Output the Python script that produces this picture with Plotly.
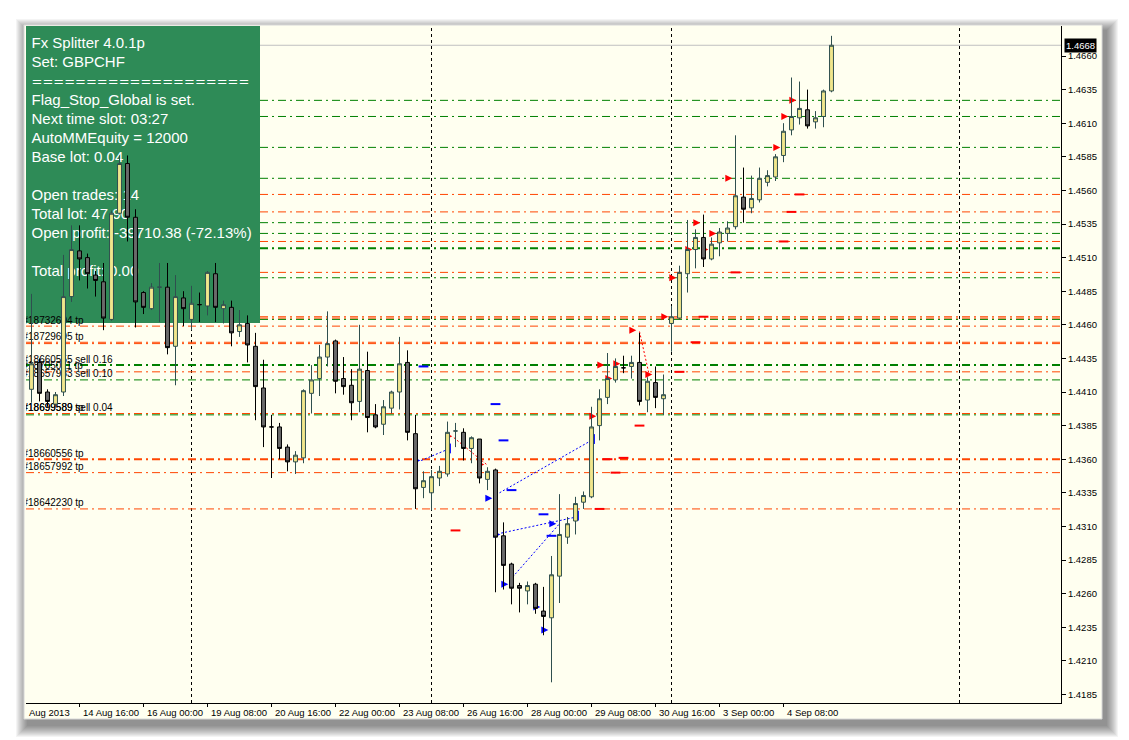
import plotly.graph_objects as go

# ---------------- data (H4 GBPCHF) ----------------
bar_index = list(range(101))
opens = [1.4412, 1.4432, 1.4410, 1.4401, 1.4410, 1.4481, 1.4515, 1.4510, 1.4497, 1.4492,
         1.4464, 1.4543, 1.4580, 1.4540, 1.4484, 1.4472, 1.4488, 1.4488, 1.4444, 1.4480,
         1.4464, 1.4475, 1.4474, 1.4498, 1.4472, 1.4473, 1.4455, 1.4461, 1.4444, 1.4413,
         1.4384, 1.4384, 1.4369, 1.4358, 1.4361, 1.4409, 1.4420, 1.4436, 1.4448, 1.4420,
         1.4415, 1.4403, 1.4426, 1.4393, 1.4386, 1.4398, 1.4410, 1.4432, 1.4379, 1.4339,
         1.4335, 1.4346, 1.4349, 1.4381, 1.4380, 1.4368, 1.4375, 1.4345, 1.4352, 1.4303,
         1.4282, 1.4266, 1.4262, 1.4267, 1.4247, 1.4242, 1.4273, 1.4302, 1.4314, 1.4328,
         1.4332, 1.4385, 1.4406, 1.4419, 1.4428, 1.4429, 1.4432, 1.4404, 1.4417, 1.4405,
         1.4461, 1.4465, 1.4498, 1.4516, 1.4525, 1.4509, 1.4521, 1.4528, 1.4533, 1.4555,
         1.4547, 1.4553, 1.4566, 1.4570, 1.4586, 1.4605, 1.4614, 1.4620, 1.4611, 1.4615,
         1.4634]
highs = [1.4483, 1.4435, 1.4412, 1.4410, 1.4512, 1.4534, 1.4534, 1.4513, 1.4500, 1.4506,
         1.4545, 1.4586, 1.4586, 1.4546, 1.4485, 1.4491, 1.4506, 1.4506, 1.4497, 1.4485,
         1.4489, 1.4484, 1.4500, 1.4506, 1.4478, 1.4478, 1.4471, 1.4467, 1.4454, 1.4434,
         1.4393, 1.4387, 1.4371, 1.4366, 1.4412, 1.4430, 1.4445, 1.4470, 1.4449, 1.4436,
         1.4427, 1.4460, 1.4440, 1.4401, 1.4404, 1.4411, 1.4451, 1.4441, 1.4393, 1.4351,
         1.4352, 1.4355, 1.4388, 1.4387, 1.4383, 1.4377, 1.4375, 1.4354, 1.4353, 1.4313,
         1.4283, 1.4268, 1.4269, 1.4268, 1.4265, 1.4288, 1.4334, 1.4317, 1.4332, 1.4336,
         1.4399, 1.4412, 1.4439, 1.4435, 1.4437, 1.4437, 1.4454, 1.4421, 1.4429, 1.4423,
         1.4474, 1.4504, 1.4538, 1.4531, 1.4542, 1.4525, 1.4532, 1.4537, 1.4601, 1.4577,
         1.4571, 1.4577, 1.4575, 1.4587, 1.4610, 1.4644, 1.4641, 1.4635, 1.4619, 1.4635,
         1.4675]
lows = [1.4402, 1.4403, 1.4399, 1.4399, 1.4407, 1.4477, 1.4493, 1.4487, 1.4481, 1.4456,
        1.4463, 1.4542, 1.4522, 1.4458, 1.4468, 1.4471, 1.4462, 1.4438, 1.4415, 1.4459,
        1.4456, 1.4462, 1.4467, 1.4462, 1.4461, 1.4444, 1.4451, 1.4432, 1.4389, 1.4369,
        1.4346, 1.4360, 1.4351, 1.4349, 1.4357, 1.4394, 1.4407, 1.4429, 1.4409, 1.4408,
        1.4389, 1.4395, 1.4380, 1.4383, 1.4378, 1.4394, 1.4397, 1.4374, 1.4323, 1.4331,
        1.4322, 1.4340, 1.4347, 1.4369, 1.4359, 1.4357, 1.4342, 1.4337, 1.4261, 1.4263,
        1.4252, 1.4246, 1.4252, 1.4245, 1.4229, 1.4194, 1.4253, 1.4297, 1.4304, 1.4323,
        1.4331, 1.4374, 1.4401, 1.4417, 1.4424, 1.4420, 1.4400, 1.4395, 1.4398, 1.4393,
        1.4440, 1.4464, 1.4484, 1.4502, 1.4503, 1.4508, 1.4511, 1.4522, 1.4531, 1.4536,
        1.4543, 1.4551, 1.4563, 1.4567, 1.4581, 1.4601, 1.4609, 1.4606, 1.4606, 1.4607,
        1.4633]
closes = [1.4431, 1.4409, 1.4403, 1.4408, 1.4481, 1.4516, 1.4509, 1.4498, 1.4493, 1.4465,
          1.4543, 1.4580, 1.4540, 1.4477, 1.4473, 1.4488, 1.4488, 1.4443, 1.4481, 1.4472,
          1.4476, 1.4475, 1.4499, 1.4473, 1.4475, 1.4454, 1.4460, 1.4445, 1.4414, 1.4384,
          1.4384, 1.4368, 1.4358, 1.4363, 1.4411, 1.4419, 1.4436, 1.4446, 1.4418, 1.4414,
          1.4402, 1.4427, 1.4391, 1.4384, 1.4399, 1.4410, 1.4431, 1.4380, 1.4338, 1.4344,
          1.4347, 1.4351, 1.4380, 1.4381, 1.4368, 1.4376, 1.4346, 1.4351, 1.4302, 1.4281,
          1.4264, 1.4264, 1.4266, 1.4249, 1.4243, 1.4274, 1.4304, 1.4312, 1.4327, 1.4333,
          1.4384, 1.4405, 1.4420, 1.4429, 1.4428, 1.4432, 1.4403, 1.4418, 1.4406, 1.4408,
          1.4466, 1.4499, 1.4516, 1.4525, 1.4509, 1.4520, 1.4529, 1.4532, 1.4556, 1.4546,
          1.4554, 1.4569, 1.4571, 1.4585, 1.4604, 1.4615, 1.4621, 1.4608, 1.4614, 1.4634,
          1.4668]
bid_price = 1.4668

x_tick_index = [6, 14, 22, 30, 38, 46, 54, 62, 70, 78, 86, 94]
x_tick_labels = ["14 Aug 16:00", "16 Aug 00:00", "19 Aug 08:00", "20 Aug 16:00",
                 "22 Aug 00:00", "23 Aug 08:00", "26 Aug 16:00", "28 Aug 00:00",
                 "29 Aug 08:00", "30 Aug 16:00", "3 Sep 00:00", "4 Sep 08:00"]
first_date_label = "Aug 2013"
y_tick_values = [1.4185, 1.4210, 1.4235, 1.4260, 1.4285, 1.4310, 1.4335, 1.4360, 1.4385,
                 1.4410, 1.4435, 1.4460, 1.4485, 1.4510, 1.4535, 1.4560, 1.4585, 1.4610,
                 1.4635, 1.4660]
y_tick_labels = ["%.4f" % v for v in y_tick_values]

separator_index = [20, 50, 80, 116]

# order / target levels
level_prices = [1.4627, 1.4615, 1.4592, 1.4569, 1.4557, 1.4544, 1.4536, 1.4528, 1.4522,
                1.4517, 1.4499, 1.4495, 1.4466, 1.4465, 1.4464, 1.4459, 1.4447, 1.4446,
                1.4430, 1.4425, 1.4419, 1.4394, 1.4393, 1.4360, 1.4350, 1.4323]
level_kind = ["g", "g", "g", "g", "o", "o", "g", "g", "o",
              "G", "o", "g", "o", "o", "g", "o", "o", "o",
              "G", "o", "g", "o", "g", "O", "o", "o"]

order_labels = ["#18732604 tp", "#18729695 tp", "#18660555 sell 0.16", "#18705011 tp",
                "#18657933 sell 0.10", "#18699589 sell 0.04", "#18699589 tp",
                "#18660556 tp", "#18657992 tp", "#18642230 tp"]
order_label_prices = [1.4459, 1.4447, 1.4430, 1.4425, 1.4419, 1.4394, 1.4394,
                      1.4360, 1.4350, 1.4323]

# trade history markers
buy_arrow_bar = [49, 58, 59, 60, 64, 65, 66]
buy_arrow_price = [1.4359, 1.4331, 1.4304, 1.4267, 1.4250, 1.4233, 1.4312]
sell_arrow_bar = [53, 57, 71, 72, 73, 74, 76, 78, 80, 81, 83, 84, 85, 86, 88, 94, 95, 96]
sell_arrow_price = [1.4377, 1.4356, 1.4392, 1.4430, 1.4420, 1.4431, 1.4456, 1.4423,
                    1.4466, 1.4495, 1.4516, 1.4536, 1.4516, 1.4528, 1.4569, 1.4592,
                    1.4615, 1.4627]
buy_mark_bar = [49, 58, 59, 60, 64, 65]
buy_mark_price = [1.4429, 1.4401, 1.4374, 1.4337, 1.4319, 1.4303]
sell_mark_bar = [53, 76, 81, 83, 72, 74, 73, 71, 96, 95, 94, 88, 84]
sell_mark_price = [1.4307, 1.4385, 1.4425, 1.4447, 1.4360, 1.4361, 1.4350, 1.4323,
                   1.4557, 1.4544, 1.4522, 1.4499, 1.4466]
buy_close_bar = [52, 70, 68]
buy_close_price = [1.4368, 1.4375, 1.4318]
buy_link_from = [(48.7, 1.4359), (58.5, 1.4335), (58.7, 1.4305), (59.8, 1.4270)]
buy_link_to = [(52.3, 1.4368), (69.7, 1.4373), (68.1, 1.4317), (66.0, 1.4312)]
sell_link_from = [(52.8, 1.4376), (76.0, 1.4455)]
sell_link_to = [(56.9, 1.4356), (77.2, 1.4423)]

info_lines = ["Fx Splitter 4.0.1p", "Set: GBPCHF", "====================",
              "Flag_Stop_Global is set.", "Next time slot: 03:27", "AutoMMEquity = 12000",
              "Base lot: 0.04", "", "Open trades: 14", "Total lot: 47.90",
              "Open profit: -39710.38 (-72.13%)", "", "Total profit: 0.00"]

# ---------------- geometry / style ----------------
W, H = 1129, 740
L, R, T, B = 26, 1061, 26, 703
PW, PH = R - L, B - T
BAR0_PX, BAR_PX = 31.5, 8.0
XMIN = (L - BAR0_PX) / BAR_PX
XMAX = (R - BAR0_PX) / BAR_PX
PX_PER_PRICE = 33.6 / 0.0025
YMAX = 1.4660 + (56 - T) / PX_PER_PRICE
YMIN = 1.4660 - (B - 56) / PX_PER_PRICE

def px(xp):
    return (xp - L) / PW

def py(yp):
    return (B - yp) / PH

def px2x(xp):
    return XMIN + (xp - L) / PW * (XMAX - XMIN)

def py2y(yp):
    return YMAX - (yp - T) / PH * (YMAX - YMIN)

BG = "#FFFFF0"
GREEN = "#008000"
ORANGE = "#FF4500"
DASHDOT = "8px,4px,2px,4px"
FONT = "Liberation Sans"
SMALL = 10

shapes = []
# window drop shadow
for i in range(12):
    e = 12 - i
    shapes.append(dict(type="rect", xref="paper", yref="paper", layer="below",
                       x0=px(24 + 4 - e), x1=px(1102 + 4 + e),
                       y0=py(719 + 6 + e), y1=py(25 + 6 - e),
                       fillcolor="rgba(0,0,0,0.045)", line=dict(width=0)))
# window
shapes.append(dict(type="rect", xref="paper", yref="paper", layer="below",
                   x0=px(24), x1=px(1102), y0=py(719), y1=py(25),
                   fillcolor=BG, line=dict(color="#D8D8D8", width=1)))
# separators
for s in separator_index:
    shapes.append(dict(type="line", xref="x", yref="paper", layer="below",
                       x0=s, x1=s, y0=0, y1=1,
                       line=dict(color="black", width=1, dash="3px,3px")))
# bid line
shapes.append(dict(type="line", xref="paper", yref="y", layer="below",
                   x0=0, x1=1, y0=bid_price, y1=bid_price,
                   line=dict(color="#C0C0C0", width=1)))
# levels
for p, k in zip(level_prices, level_kind):
    col = GREEN if k.lower() == "g" else ORANGE
    wd = 2 if k.isupper() else 1
    shapes.append(dict(type="line", xref="paper", yref="y", layer="below",
                       x0=0, x1=1, y0=p, y1=p,
                       line=dict(color=col, width=wd, dash=DASHDOT)))
# info panel
shapes.append(dict(type="rect", xref="paper", yref="paper", layer="below",
                   x0=px(26), x1=px(260), y0=py(323), y1=py(26),
                   fillcolor="#2E8B57", line=dict(width=0)))

fig = go.Figure()

# info text (drawn under the candles)
info_fs = [13 if ln.startswith("=") else 15 for ln in info_lines]
info_fam = ["DejaVu Sans" if ln.startswith("=") else FONT for ln in info_lines]
fig.add_trace(go.Scatter(
    x=[px2x(31.5)] * len(info_lines),
    y=[py2y(48.3 + 19 * i - 0.25 * info_fs[i]) for i in range(len(info_lines))],
    mode="text", text=info_lines, textposition="middle right",
    textfont=dict(color="white", size=info_fs, family=info_fam),
    hoverinfo="skip", showlegend=False, xaxis="x", yaxis="y"))

# order labels
fig.add_trace(go.Scatter(
    x=[px2x(22.5)] * len(order_labels), y=order_label_prices,
    mode="text", text=order_labels, textposition="top right",
    textfont=dict(color="black", size=SMALL, family=FONT),
    hoverinfo="skip", showlegend=False))

# trade links
def link_xy(a, b):
    xs, ys = [], []
    for (x0, y0), (x1, y1) in zip(a, b):
        xs += [x0, x1, None]
        ys += [y0, y1, None]
    return xs, ys

bx, by = link_xy(buy_link_from, buy_link_to)
fig.add_trace(go.Scatter(x=bx, y=by, mode="lines",
                         line=dict(color="#0000FF", width=1, dash="2px,2px"),
                         hoverinfo="skip", showlegend=False))
sx, sy = link_xy(sell_link_from, sell_link_to)
fig.add_trace(go.Scatter(x=sx, y=sy, mode="lines",
                         line=dict(color="#FF0000", width=1, dash="2px,2px"),
                         hoverinfo="skip", showlegend=False))

fig.add_trace(go.Scatter(x=buy_mark_bar, y=buy_mark_price, mode="markers",
                         marker=dict(symbol="line-ew", size=7, line=dict(color="#0000FF", width=2)),
                         hoverinfo="skip", showlegend=False))
fig.add_trace(go.Scatter(x=sell_mark_bar, y=sell_mark_price, mode="markers",
                         marker=dict(symbol="line-ew", size=7, line=dict(color="#FF0000", width=2)),
                         hoverinfo="skip", showlegend=False))
fig.add_trace(go.Scatter(x=[b + 0.3 for b in buy_close_bar], y=buy_close_price, mode="markers",
                         marker=dict(symbol="line-ns", size=7, line=dict(color="#0000FF", width=2)),
                         hoverinfo="skip", showlegend=False))
fig.add_trace(go.Scatter(x=[b - 0.4 for b in buy_arrow_bar], y=buy_arrow_price, mode="markers",
                         marker=dict(symbol="arrow-right", size=7, color="#0000FF"),
                         hoverinfo="skip", showlegend=False))
fig.add_trace(go.Scatter(x=[b - 0.4 for b in sell_arrow_bar], y=sell_arrow_price, mode="markers",
                         marker=dict(symbol="arrow-right", size=7, color="#FF0000"),
                         hoverinfo="skip", showlegend=False))

# candles on an overlaying subplot -> drawn in the foreground
fig.add_trace(go.Candlestick(
    x=bar_index, open=opens, high=highs, low=lows, close=closes,
    xaxis="x2", yaxis="y2", whiskerwidth=0,
    increasing=dict(fillcolor="#F0E68C", line=dict(color="#2F4F4F", width=1)),
    decreasing=dict(fillcolor="#6A6A6A", line=dict(color="#000000", width=1)),
    hoverinfo="skip", showlegend=False))

annotations = []
for i, t in zip(x_tick_index, x_tick_labels):
    annotations.append(dict(xref="x", yref="paper", x=i, y=0, xanchor="left", yanchor="top",
                            xshift=1, yshift=-2, text=t, showarrow=False,
                            font=dict(family=FONT, size=9.5, color="black")))
annotations.append(dict(xref="paper", yref="paper", x=px(27), y=0, xanchor="left",
                        yanchor="top", yshift=-2, text=first_date_label, showarrow=False,
                        font=dict(family=FONT, size=9.5, color="black")))
annotations.append(dict(xref="paper", yref="y", x=1, y=bid_price, xanchor="left",
                        yanchor="middle", xshift=3, text=str(bid_price), showarrow=False,
                        bgcolor="black", borderpad=1,
                        font=dict(family=FONT, size=9.5, color="white")))

fig.update_layout(
    width=W, height=H, margin=dict(l=L, r=W - R, t=T, b=H - B),
    paper_bgcolor="white", plot_bgcolor=BG, boxgap=0.3,
    shapes=shapes, annotations=annotations, showlegend=False,
    xaxis=dict(range=[XMIN, XMAX], showgrid=False, zeroline=False, showline=True,
               linecolor="black", linewidth=1, ticks="outside", ticklen=3,
               tickcolor="black", tickvals=x_tick_index, showticklabels=False,
               rangeslider=dict(visible=False), fixedrange=True),
    yaxis=dict(range=[YMIN, YMAX], side="right", showgrid=False, zeroline=False,
               showline=True, linecolor="black", linewidth=1, ticks="outside",
               ticklen=4, tickcolor="black", tickvals=y_tick_values,
               ticktext=y_tick_labels, tickfont=dict(family=FONT, size=9.5, color="black"),
               fixedrange=True),
    xaxis2=dict(range=[XMIN, XMAX], overlaying="x", anchor="y2", visible=False,
                rangeslider=dict(visible=False), fixedrange=True),
    yaxis2=dict(range=[YMIN, YMAX], overlaying="y", anchor="x2", side="right",
                visible=False, fixedrange=True),
)

fig.write_html("out.html", config=dict(displayModeBar=False, staticPlot=True))
